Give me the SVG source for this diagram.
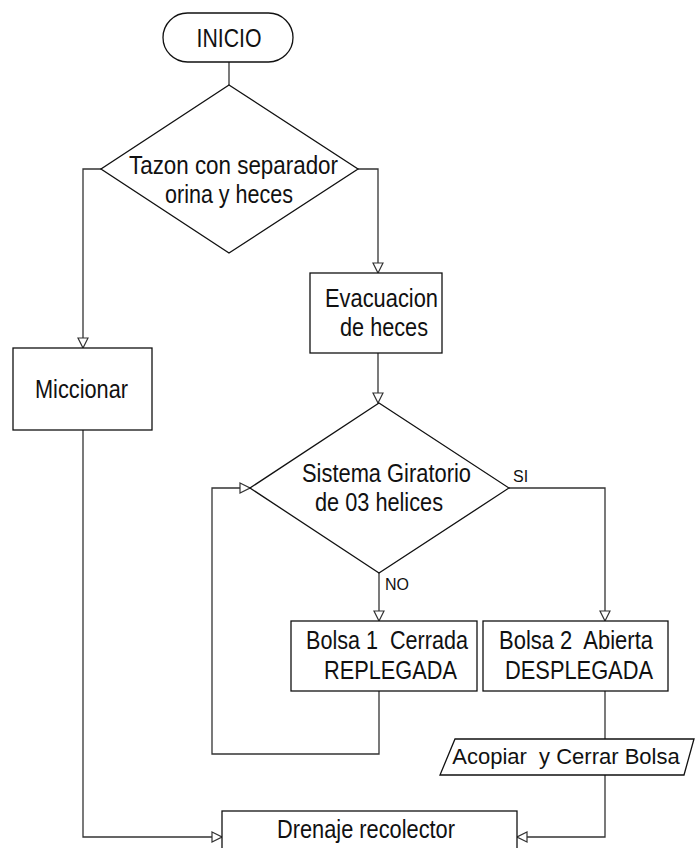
<svg xmlns="http://www.w3.org/2000/svg" width="695" height="848" viewBox="0 0 695 848">
<style>
.shape{fill:#fff;stroke:#111;stroke-width:1.3}
.conn{fill:none;stroke:#333;stroke-width:1.3}
.t{font-family:"Liberation Sans",Arial,sans-serif;font-size:25px;fill:#111;text-anchor:middle}
.lbl{font-family:"Liberation Sans",Arial,sans-serif;font-size:16px;fill:#111}
</style>
<defs>
<marker id="arr" markerUnits="userSpaceOnUse" markerWidth="12" markerHeight="12" viewBox="0 0 12 12" refX="11" refY="6" orient="auto">
<path d="M1,1 L11,6 L1,11 z" fill="#fff" stroke="#333" stroke-width="1.2"/>
</marker>
</defs>
<rect width="695" height="848" fill="#fff"/>
<g id="connectors">
<path class="conn" d="M229,62 V85"/>
<path class="conn" d="M101,169 H83 V348" marker-end="url(#arr)"/>
<path class="conn" d="M358,169 H378 V273" marker-end="url(#arr)"/>
<path class="conn" d="M378,353 V403" marker-end="url(#arr)"/>
<path class="conn" d="M83,430 V837 H222" marker-end="url(#arr)"/>
<path class="conn" d="M509,488 H605 V621" marker-end="url(#arr)"/>
<path class="conn" d="M379,573 V621" marker-end="url(#arr)"/>
<path class="conn" d="M379,691 V754 H212 V488 H250" marker-end="url(#arr)"/>
<path class="conn" d="M605,691 V739"/>
<path class="conn" d="M605,775 V837 H517" marker-end="url(#arr)"/>
</g>
<g id="inicio">
<rect class="shape" x="163" y="13" width="130" height="49" rx="24.5" ry="24.5"/>
<text class="t" x="229" y="47" textLength="65" lengthAdjust="spacingAndGlyphs">INICIO</text>
</g>
<g id="tazon">
<polygon class="shape" points="229,85 358,169 229,253 101,169"/>
<text class="t" x="233.5" y="174" textLength="209" lengthAdjust="spacingAndGlyphs">Tazon con separador</text>
<text class="t" x="229" y="203" textLength="128" lengthAdjust="spacingAndGlyphs">orina y heces</text>
</g>
<g id="miccionar">
<rect class="shape" x="13" y="348" width="139" height="82"/>
<text class="t" x="81.5" y="398" textLength="93" lengthAdjust="spacingAndGlyphs">Miccionar</text>
</g>
<g id="evacuacion">
<rect class="shape" x="310" y="273" width="132" height="80"/>
<text class="t" x="381.5" y="307" textLength="113" lengthAdjust="spacingAndGlyphs">Evacuacion</text>
<text class="t" x="384" y="336" textLength="88" lengthAdjust="spacingAndGlyphs">de heces</text>
</g>
<g id="sistema">
<polygon class="shape" points="379,403 509,488 379,573 250,488"/>
<text class="t" x="386.5" y="482" textLength="169" lengthAdjust="spacingAndGlyphs">Sistema Giratorio</text>
<text class="t" x="379" y="511" textLength="128" lengthAdjust="spacingAndGlyphs">de 03 helices</text>
<text class="lbl" x="513" y="482">SI</text>
<text class="lbl" x="385" y="590">NO</text>
</g>
<g id="bolsa1">
<rect class="shape" x="291" y="621" width="186" height="70"/>
<text class="t" x="387" y="649" textLength="162" lengthAdjust="spacingAndGlyphs" xml:space="preserve">Bolsa 1  Cerrada</text>
<text class="t" x="390.5" y="679" textLength="133" lengthAdjust="spacingAndGlyphs">REPLEGADA</text>
</g>
<g id="bolsa2">
<rect class="shape" x="483" y="621" width="185" height="70"/>
<text class="t" x="576" y="649" textLength="154" lengthAdjust="spacingAndGlyphs" xml:space="preserve">Bolsa 2  Abierta</text>
<text class="t" x="579" y="679" textLength="148" lengthAdjust="spacingAndGlyphs">DESPLEGADA</text>
</g>
<g id="acopiar">
<polygon class="shape" points="455,739 694,739 684,775 440,775"/>
<text class="t" x="566" y="764" style="font-size:22px" xml:space="preserve">Acopiar  y Cerrar Bolsa</text>
</g>
<g id="drenaje">
<rect class="shape" x="222" y="811" width="295" height="60"/>
<text class="t" x="366" y="838" textLength="178" lengthAdjust="spacingAndGlyphs">Drenaje recolector</text>
</g>
</svg>
